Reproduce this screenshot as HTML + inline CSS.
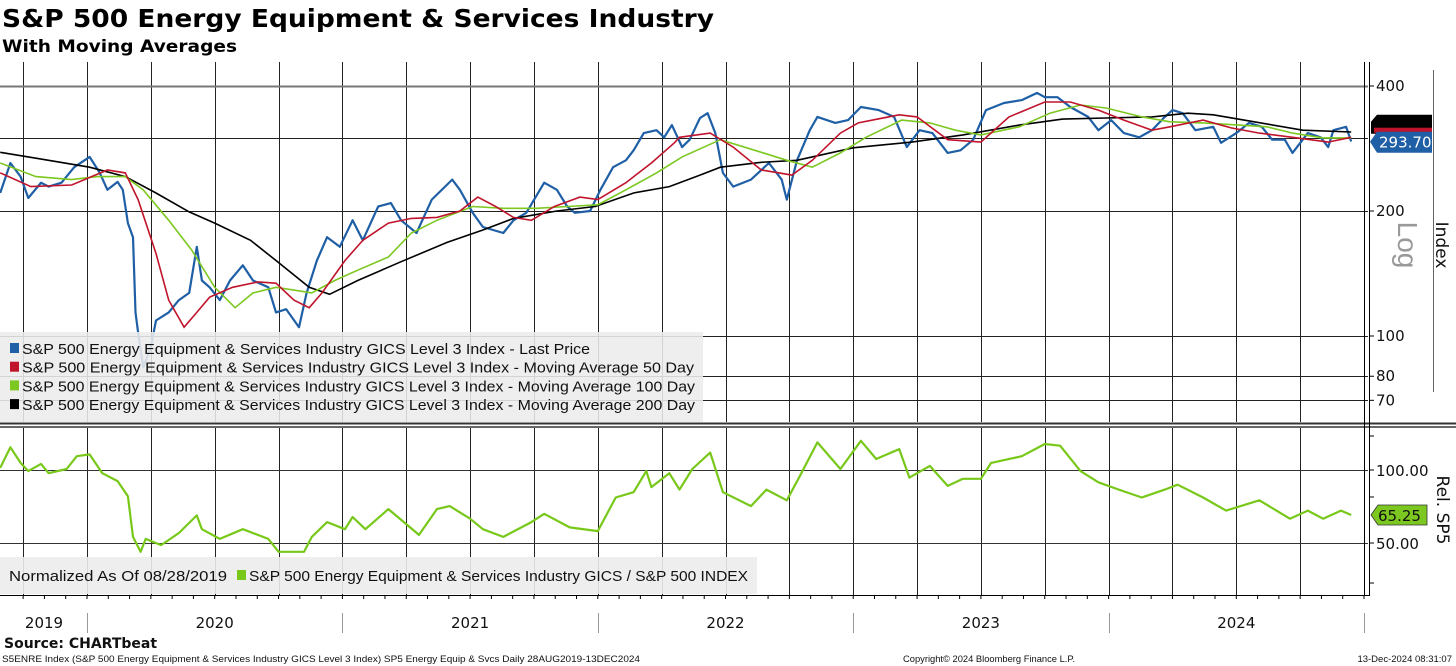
<!DOCTYPE html>
<html><head><meta charset="utf-8"><style>
html,body{margin:0;padding:0;background:#fff;}
svg{display:block;font-family:"DejaVu Sans","Liberation Sans",sans-serif;}
</style></head><body>
<svg id="chart" width="1456" height="666" viewBox="0 0 1456 666" xmlns="http://www.w3.org/2000/svg">
<text x="2" y="27" font-size="25" font-weight="bold" textLength="712" lengthAdjust="spacingAndGlyphs">S&amp;P 500 Energy Equipment &amp; Services Industry</text>
<text x="2" y="52" font-size="17" font-weight="bold" textLength="235" lengthAdjust="spacingAndGlyphs">With Moving Averages</text>
<g id="grid"></g>
<g id="series"></g>
<g id="overlay"></g>
</svg>
<script>
// ---- data ----
const priceDates=[2019.66,2019.70,2019.74,2019.77,2019.82,2019.85,2019.90,2019.95,2020.01,2020.05,2020.08,2020.12,2020.14,2020.16,2020.18,2020.19,2020.20,2020.22,2020.25,2020.27,2020.32,2020.36,2020.40,2020.43,2020.45,2020.48,2020.52,2020.56,2020.61,2020.65,2020.71,2020.74,2020.78,2020.83,2020.86,2020.90,2020.94,2020.99,2021.04,2021.08,2021.14,2021.19,2021.23,2021.29,2021.35,2021.43,2021.46,2021.51,2021.55,2021.63,2021.67,2021.72,2021.79,2021.84,2021.88,2021.91,2021.97,2022.01,2022.06,2022.11,2022.14,2022.18,2022.23,2022.26,2022.29,2022.33,2022.36,2022.40,2022.43,2022.46,2022.49,2022.53,2022.60,2022.67,2022.72,2022.74,2022.78,2022.83,2022.86,2022.93,2022.98,2023.03,2023.10,2023.16,2023.21,2023.26,2023.31,2023.37,2023.42,2023.47,2023.52,2023.59,2023.66,2023.72,2023.75,2023.80,2023.85,2023.92,2023.96,2024.01,2024.06,2024.12,2024.17,2024.22,2024.25,2024.29,2024.34,2024.41,2024.44,2024.50,2024.55,2024.60,2024.64,2024.69,2024.72,2024.78,2024.83,2024.86,2024.88,2024.93,2024.95];
const priceValues=[221,261,242,215,234,229,234,255,270,247,225,235,225,187,173,114,102,84,94,109,114,122,127,164,136,131,122,136,148,136,131,114,116,105,127,152,173,164,190,170,205,209,190,177,213,238,225,198,183,177,190,198,234,225,205,198,200,225,255,265,280,308,313,301,322,285,297,335,344,308,247,229,238,261,238,213,265,313,337,326,331,356,350,337,285,313,308,276,280,297,350,364,370,385,376,376,356,337,313,331,308,301,313,337,350,344,313,319,292,308,326,319,297,297,276,308,301,285,313,319,294];
const ma50Dates=[2019.66,2019.78,2019.94,2020.08,2020.15,2020.20,2020.27,2020.32,2020.38,2020.43,2020.48,2020.57,2020.67,2020.74,2020.81,2020.87,2020.92,2021.01,2021.08,2021.18,2021.27,2021.37,2021.46,2021.53,2021.60,2021.67,2021.74,2021.83,2021.93,2022.00,2022.11,2022.21,2022.30,2022.32,2022.44,2022.53,2022.64,2022.76,2022.84,2022.95,2023.02,2023.18,2023.25,2023.37,2023.50,2023.61,2023.75,2023.85,2023.96,2024.06,2024.17,2024.24,2024.37,2024.48,2024.59,2024.72,2024.86,2024.95];
const ma50Values=[247,229,231,251,247,213,158,122,105,114,124,131,135,134,122,117,127,152,170,187,192,193,200,216,205,193,190,205,216,213,234,261,292,301,308,285,251,244,265,308,326,341,337,297,293,337,366,366,350,331,313,319,331,317,308,301,293,301];
const ma100Dates=[2019.66,2019.80,2019.94,2020.04,2020.15,2020.22,2020.32,2020.41,2020.50,2020.58,2020.65,2020.74,2020.81,2020.88,2020.97,2021.06,2021.18,2021.27,2021.37,2021.51,2021.63,2021.76,2021.88,2022.00,2022.11,2022.23,2022.33,2022.48,2022.64,2022.74,2022.84,2022.95,2023.05,2023.19,2023.30,2023.40,2023.50,2023.65,2023.77,2023.89,2023.99,2024.13,2024.24,2024.37,2024.51,2024.62,2024.72,2024.84,2024.95];
const ma100Values=[261,242,238,242,242,225,190,161,131,117,127,131,129,127,136,144,155,177,190,205,203,203,205,207,225,247,270,297,277,265,255,276,301,331,326,313,305,319,344,360,354,337,328,326,322,319,308,300,300];
const ma200Dates=[2019.66,2019.80,2020.01,2020.15,2020.27,2020.40,2020.50,2020.64,2020.74,2020.87,2020.95,2021.06,2021.23,2021.41,2021.55,2021.67,2021.84,2021.99,2022.14,2022.28,2022.40,2022.48,2022.64,2022.78,2023.00,2023.23,2023.43,2023.65,2023.82,2023.99,2024.17,2024.31,2024.41,2024.57,2024.76,2024.95];
const ma200Values=[277,268,255,242,221,199,187,170,152,131,126,136,151,168,180,192,200,205,221,229,244,255,262,265,284,293,305,322,333,335,337,344,341,328,313,310];
const relDates=[2019.66,2019.70,2019.74,2019.77,2019.82,2019.85,2019.92,2019.96,2020.01,2020.06,2020.12,2020.16,2020.18,2020.21,2020.23,2020.29,2020.36,2020.43,2020.45,2020.52,2020.61,2020.71,2020.75,2020.85,2020.88,2020.94,2021.01,2021.04,2021.09,2021.18,2021.30,2021.37,2021.42,2021.50,2021.55,2021.63,2021.74,2021.79,2021.89,2022.00,2022.07,2022.14,2022.19,2022.21,2022.28,2022.32,2022.37,2022.44,2022.49,2022.60,2022.66,2022.74,2022.79,2022.86,2022.95,2023.03,2023.09,2023.18,2023.22,2023.30,2023.37,2023.43,2023.50,2023.54,2023.66,2023.75,2023.81,2023.89,2023.96,2024.04,2024.13,2024.22,2024.27,2024.37,2024.46,2024.59,2024.71,2024.78,2024.84,2024.91,2024.95];
const relValues=[102,124,107,99,106,97,101,114,116,97,90,78,53,46,52,49,55,65,57,52,57,52,46,46,53,61,57,64,57,69,54,69,71,63,57,53,61,66,58,56,77,81,99,85,97,83,101,118,81,71,83,75,94,130,101,132,111,122,93,104,86,92,92,107,114,128,126,99,89,83,77,83,87,77,68,75,63,68,63,68,65.25];
const topTicks=[400,200,100,80,70];
const topGrid=[400,300,200,100,80,70];
const botTicks=[100,50];
const yearLabels=["2019","2020","2021","2022","2023","2024"];
const yearStarts=[2019.66,2020,2021,2022,2023,2024];
const lastPrice=293.70, lastRel=65.25;

// ---- scales ----
const X0=87, PXY=255.4;
function xS(d){return X0+(d-2020)*PXY;}
function yTop(v){return 336-125*Math.log2(v/100);}
function yBot(v){return 470-73*Math.log2(v/100);}
const NS="http://www.w3.org/2000/svg";
function mk(tag,attrs,parent){const e=document.createElementNS(NS,tag);for(const k in attrs)e.setAttribute(k,attrs[k]);parent.appendChild(e);return e;}
const grid=document.getElementById('grid'), series=document.getElementById('series'), ov=document.getElementById('overlay');
const svg=document.getElementById('chart');
const defs=mk('defs',{},svg);
const c1=mk('clipPath',{id:'clipTop'},defs); mk('rect',{x:0,y:62,width:1364,height:360},c1);
const c2=mk('clipPath',{id:'clipBot'},defs); mk('rect',{x:0,y:428,width:1364,height:167},c2);

// vertical quarter gridlines
for(let q=2019.75;q<2025;q+=0.25){
  const x=Math.round(xS(q))+0.5;
  const l=mk('line',{x1:x,x2:x,y1:62,y2:596,stroke:'#222','stroke-width':1},grid);
  
  
}
// horizontal gridlines top
topGrid.forEach(v=>{
  const y=Math.round(yTop(v))+0.5;
  const l=mk('line',{x1:0,x2:1368,y1:y,y2:y,stroke:v===400?'#777':'#222','stroke-width':v===400?2:1},grid);
  
  
});
botTicks.forEach(v=>{
  const y=Math.round(yBot(v))+0.5;
  const l=mk('line',{x1:0,x2:1368,y1:y,y2:y,stroke:'#333','stroke-width':1},grid);
  
  
});

function path(dates,vals,ys){return dates.map((d,i)=>(i?'L':'M')+xS(d).toFixed(1)+','+ys(vals[i]).toFixed(1)).join('');}
const gTop=mk('g',{'clip-path':'url(#clipTop)'},series);
let p;
p=mk('path',{d:path(priceDates,priceValues,yTop),fill:'none',stroke:'#1f5fa5','stroke-width':2.2,'stroke-linejoin':'round'},gTop);


p=mk('path',{d:path(ma200Dates,ma200Values,yTop),fill:'none',stroke:'#000','stroke-width':1.6},gTop);


p=mk('path',{d:path(ma100Dates,ma100Values,yTop),fill:'none',stroke:'#7cc820','stroke-width':1.6},gTop);


p=mk('path',{d:path(ma50Dates,ma50Values,yTop),fill:'none',stroke:'#c0142c','stroke-width':1.6},gTop);


const gBot=mk('g',{'clip-path':'url(#clipBot)'},series);
p=mk('path',{d:path(relDates,relValues,yBot),fill:'none',stroke:'#78c81a','stroke-width':2.2,'stroke-linejoin':'round'},gBot);



// legends
const leg=mk('g',{},ov);


mk('rect',{x:0,y:332,width:703,height:90,fill:'rgba(236,236,236,0.88)'},leg);
const legTexts=['S&P 500 Energy Equipment & Services Industry GICS Level 3 Index - Last Price','S&P 500 Energy Equipment & Services Industry GICS Level 3 Index - Moving Average 50 Day','S&P 500 Energy Equipment & Services Industry GICS Level 3 Index - Moving Average 100 Day','S&P 500 Energy Equipment & Services Industry GICS Level 3 Index - Moving Average 200 Day'];
const legColors=['#1f5fa5','#c0142c','#7cc820','#000'];
const legW=[568,672,673,673];
legTexts.forEach((t,i)=>{
  const y=349+i*18.7;
  const s=mk('rect',{x:10,y:y-6,width:9,height:10,fill:legColors[i]},leg);
  
  
  const tx=mk('text',{x:22,y:y+5,'font-size':15,fill:'#111',textLength:legW[i],lengthAdjust:'spacingAndGlyphs','font-family':'Liberation Sans, sans-serif'},leg);
  tx.textContent=t;
  
  
});
const leg2=mk('g',{},ov);


mk('rect',{x:0,y:557,width:757,height:37,fill:'rgba(236,236,236,0.9)'},leg2);
let t=mk('text',{x:9,y:581,'font-size':15,fill:'#111',textLength:218,lengthAdjust:'spacingAndGlyphs','font-family':'Liberation Sans, sans-serif'},leg2);
t.textContent='Normalized As Of 08/28/2019';


t=mk('rect',{x:237,y:570,width:9,height:10,fill:'#78c81a'},leg2);


t=mk('text',{x:249,y:581,'font-size':15,fill:'#111',textLength:499,lengthAdjust:'spacingAndGlyphs','font-family':'Liberation Sans, sans-serif'},leg2);
t.textContent='S&P 500 Energy Equipment & Services Industry GICS / S&P 500 INDEX';



// separator & axes
mk('rect',{x:0,y:422,width:1456,height:6,fill:'#fff'},ov);
mk('line',{x1:0,x2:1456,y1:423.5,y2:423.5,stroke:'#333','stroke-width':2},ov);
mk('line',{x1:0,x2:1456,y1:427,y2:427,stroke:'#333','stroke-width':1.5},ov);
mk('line',{x1:1364.5,x2:1364.5,y1:62,y2:596,stroke:'#000','stroke-width':1},ov);
mk('line',{x1:1369.5,x2:1369.5,y1:62,y2:596,stroke:'#000','stroke-width':1},ov);
mk('line',{x1:0,x2:1370,y1:595.5,y2:595.5,stroke:'#000','stroke-width':1},ov);
// monthly ticks on bottom axis
for(let m=2019.75;m<2025;m+=1/12){const x=xS(m);mk('line',{x1:x,x2:x,y1:595,y2:599,stroke:'#000'},ov);}
// right ticks
topTicks.forEach(v=>{
  const y=yTop(v);
  mk('line',{x1:1369,x2:1374,y1:y,y2:y,stroke:'#000'},ov);
  const tx=mk('text',{x:1376,y:y+5,'font-size':15,fill:'#111','font-family':'DejaVu Sans, sans-serif'},ov);
  tx.textContent=String(v);
  
  
});
botTicks.forEach(v=>{
  const y=yBot(v);
  mk('line',{x1:1369,x2:1374,y1:y,y2:y,stroke:'#000'},ov);
  const tx=mk('text',{x:1376,y:y+6,'font-size':15,fill:'#111','font-family':'DejaVu Sans, sans-serif'},ov);
  tx.textContent=v.toFixed(2);
  
  
});
[436,497,583].forEach(y=>mk('line',{x1:1369,x2:1374,y1:y,y2:y,stroke:'#000'},ov));
// year labels
yearLabels.forEach((yl,i)=>{
  const a=xS(Math.max(yearStarts[i],2019.66)), b=xS(i<5?yearStarts[i+1]:2025);
  const cx=i===0?44:(a+b)/2;
  const tx=mk('text',{x:cx,y:628,'font-size':15,'text-anchor':'middle',fill:'#111','font-family':'DejaVu Sans, sans-serif'},ov);
  tx.textContent=yl;
  
  
  if(i>0){const x=Math.round(a)+0.5;mk('line',{x1:x,x2:x,y1:613,y2:633,stroke:'#999'},ov);}
});
mk('line',{x1:1364.5,x2:1364.5,y1:613,y2:633,stroke:'#999'},ov);
// axis titles
mk('line',{x1:1433.5,x2:1433.5,y1:70,y2:392,stroke:'#666','stroke-width':1},ov);
t=mk('text',{x:0,y:0,'font-size':17,fill:'#111',transform:'translate(1436,245) rotate(90)','text-anchor':'middle'},ov);
t.textContent='Index';


t=mk('text',{x:0,y:0,'font-size':28,fill:'#999',transform:'translate(1398,245) rotate(90)','text-anchor':'middle','font-family':'Liberation Sans, sans-serif'},ov);
t.textContent='Log';


t=mk('text',{x:0,y:0,'font-size':17,fill:'#111',transform:'translate(1437,510) rotate(90)','text-anchor':'middle'},ov);
t.textContent='Rel. SP5';


// value tags
const yp=yTop(lastPrice);
mk('path',{d:`M1371,${yp-20} L1377,${yp-27} L1432,${yp-27} L1432,${yp-8} L1371,${yp-8}Z`,fill:'#000'},ov);
mk('rect',{x:1374,y:yp-14,width:58,height:5,fill:'#c0142c'},ov);
t=mk('path',{d:`M1370,${yp} L1377,${yp-10} L1432,${yp-10} L1432,${yp+11} L1377,${yp+11}Z`,fill:'#1f5fa5'},ov);


t=mk('text',{x:1379,y:yp+6,'font-size':15,fill:'#fff'},ov);
t.textContent=lastPrice.toFixed(2);


const yr=yBot(lastRel);
t=mk('path',{d:`M1371,${yr} L1378,${yr-10} L1427,${yr-10} L1427,${yr+10} L1378,${yr+10}Z`,fill:'#7cc820',stroke:'#333','stroke-width':0.8},ov);


t=mk('text',{x:1378,y:yr+6,'font-size':15,fill:'#111'},ov);
t.textContent=lastRel.toFixed(2);


// footer
t=mk('text',{x:4,y:648,'font-size':14,'font-weight':'bold',fill:'#111'},ov);
t.textContent='Source: CHARTbeat';


t=mk('text',{x:2,y:662,'font-size':9.5,fill:'#111',textLength:638,lengthAdjust:'spacingAndGlyphs','font-family':'Liberation Sans, sans-serif'},ov);
t.textContent='S5ENRE Index (S&P 500 Energy Equipment & Services Industry GICS Level 3 Index) SP5 Energy Equip & Svcs  Daily 28AUG2019-13DEC2024';


t=mk('text',{x:903,y:662,'font-size':9.5,fill:'#111',textLength:172,lengthAdjust:'spacingAndGlyphs','font-family':'Liberation Sans, sans-serif'},ov);
t.textContent='Copyright© 2024 Bloomberg Finance L.P.';


t=mk('text',{x:1452,y:662,'font-size':9.5,fill:'#111','text-anchor':'end','font-family':'Liberation Sans, sans-serif'},ov);
t.textContent='13-Dec-2024 08:31:07';


</script>
</body></html>
